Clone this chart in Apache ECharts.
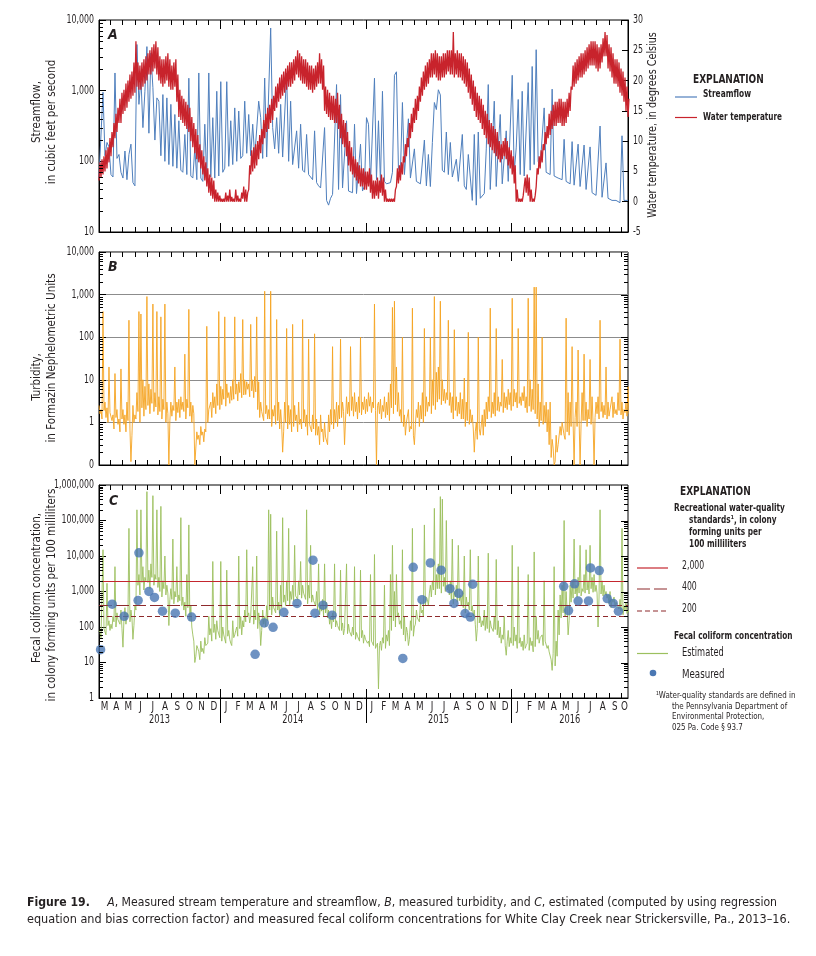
<!DOCTYPE html>
<html><head><meta charset="utf-8">
<script src="https://cdn.jsdelivr.net/npm/echarts@6/dist/echarts.min.js"></script>
<style>html,body{margin:0;padding:0;background:#fff}#c{width:816px;height:956px}</style>
</head><body><div id="c"></div>
<script>
// ---------- DATA ----------
const START_DATE = '2013-03-04';
const END_DATE = '2016-10-19';
const STEP_DAYS = 5; // one value every 5 days from START_DATE

// Streamflow, cubic feet per second
const streamflow = [
  60,62,950,120,185,160,65,60,1780,110,
  125,70,58,140,55,125,175,50,45,4500,
  640,1500,300,980,4200,250,3400,1100,200,790,
  710,120,880,100,790,90,640,85,460,80,
  375,75,70,240,65,1500,62,58,155,55,
  1780,58,52,335,55,1780,60,415,58,980,
  62,1340,70,80,1340,85,375,90,570,100,
  515,110,120,710,130,460,120,335,115,110,
  710,415,110,1510,115,120,7700,300,150,415,
  130,640,115,110,1780,100,710,90,85,270,
  80,335,75,70,240,65,60,55,270,50,
  45,42,40,300,28,24,30,34,33,1220,
  40,880,42,40,375,38,37,36,335,35,
  36,175,38,45,415,335,50,48,1500,55,
  375,50,980,52,48,45,50,70,1650,1850,
  80,70,680,65,62,400,58,55,150,52,
  50,48,46,200,45,125,44,185,680,540,
  1030,870,75,70,260,65,185,60,57,107,
  52,50,240,45,40,125,130,28,240,24,
  260,30,32,35,150,1220,40,42,710,44,
  160,460,48,50,270,52,55,1650,70,155,
  750,65,980,62,60,1300,75,2200,90,3800,
  100,85,80,570,70,68,65,1050,62,60,
  58,56,55,205,52,50,48,190,46,45,
  175,44,42,170,40,38,160,36,34,33,
  32,316,31,30,95,30,29,28,27,28,
  27,26,230,28,27,28
];

// Water temperature band (lower / upper edge of the daily band), degrees Celsius
const tempLow = [
  3.5,4,4.5,5,5.5,6.5, 7.5,9,10.5,11.5,13,13, 14.5,15,15.5,16.5,17,17.5,
  18,19,18.5,18.5,19,19.5, 20,21,21,21.5,22,21, 20,19.5,19,19.5,20,19,
  18.5,18.5,19,16.5,14,13.5, 13,12.5,12,11.5,10,9, 8,7,6.5,5.5,4.5,3.5,
  2.5,1.5,1,0.5,0,0,0, 0,0,0,0,0,0, 0,0,0,0,0,0.5,
  0,0,2,4.5,5,5.5, 6,7,8,9.5,10.5,11.5, 12,13,13.5,15,15.5,16.5,
  17,17.5,18,18.5,19,19, 19.5,20,21,20.5,20,19.5, 19.5,19,18.5,18.5,18,18.5,
  19,19.5,19.5,18.5,15,14.5, 14,13.5,13.5,13,13,12, 10.5,9.5,9,7.5,6,5,
  4.5,4,3.5,3,2.5,2.5,2, 2,2.5,1.5,0.5,0.5,1, 0.5,1.5,1,0,0,0,
  0,0,0,2.5,3,3.5, 4.5,6.5,7.5,9,10.5,11.5, 13,13.5,15,16.5,17.5,18.5,
  19,19.5,20.5,20.5,21,20.5, 20,20,20.5,20.5,21,21.5, 21,21,20.5,21,20.5,20.5,
  20,19.5,19,18,17,16, 15,14,13.5,13,12,11, 10.5,9.5,9,8.5,8,7.5,
  7,6.5,7,7.5,7,6,5.5, 4.5,3,0,0,0,0, 1,1.5,1,0,0,0,
  2.5,4.5,5.5,6.5,8.5,9.5, 10.5,11,12,12.5,12.5,13, 13,12.5,12.5,13,14,15,
  18.5,19,19.5,20,20.5,20.5, 21,21.5,22,22.5,22.5,22.5, 22,21.5,22,23,24,24,
  22,21.5,20.5,19.5,19.5,19, 18,17.5,16.5,15,14
];
const tempHigh = [
  6.5,7,7.5,8.5,9,10.5, 11.5,13,14.5,15.5,17,18, 18.5,19.5,20,21,21.5,23,
  26.5,23,22.5,23,23.5,24, 24.5,25,25.5,26,26.5,25.5, 24,23.5,23.5,24,24.5,23.5,
  22.5,23,23.5,21,18.5,17.5, 17,16.5,16,15.5,14,13, 12,11,9.5,8.5,7.5,6.5,
  5.5,4.5,4,3.5,2,1.5,1, 0.5,0.5,1.5,1,2,0.8, 0.5,2,1,0.5,1.5,2.5,
  2,1.5,6,8.5,9,9.5, 10,11,12,13.5,14.5,15.5, 16,17,17.5,19,19.5,20.5,
  21,21.5,22,22.5,23,23, 23.5,24,25,24.5,24,23.5, 23.5,23,22.5,22.5,22,22.5,
  23,24.5,23.5,22.5,19,18.5, 18,17.5,17.5,17,18,16, 14.5,13.5,13,11.5,10,9,
  7.5,7,6.5,6,5.5,5.5,5, 5,5.5,4.5,3.5,3.5,4, 3.5,4.5,4,2,0.5,0.5,
  0.5,0.5,2,5.5,6,6.5, 7.5,9.5,10.5,13,14.5,15.5, 17,17.5,19,20.5,21.5,22.5,
  23,23.5,24.5,24.5,25,24.5, 24,24,24.5,24.5,25,25, 25,28,24.5,25,24.5,24.5,
  24,23.5,23,22,21,20, 19,18,17.5,17,16,15, 14.5,13.5,13,12.5,12,11.5,
  10,9.5,10,10.5,10,9,8.5, 7.5,6,2,0.5,0.5,1, 4,4.5,4,2,0.5,1,
  5.5,7.5,8.5,9.5,11.5,12.5, 14.5,15,16,16.5,16.5,17, 17,16.5,16.5,17,18,19,
  22.5,23,23.5,24,24.5,24.5, 25,25.5,26,26.5,26.5,26.5, 26,25.5,26,27,28,27.5,
  26,25.5,24.5,23.5,23.5,23, 22,21.5,20.5,19,17
];

// Turbidity, Formazin Nephelometric Units: upper readings (incl. storm peaks) and lower edge of the noise band
const turbidity = [
  2.5,2,400,3,2.2,20,1.7,1.5,14,2,
  1.2,18,2,1.5,3,250,0.12,2.5,1.5,5,
  400,350,10,7,900,8,6,600,5,400,
  4,300,3.5,600,3,0.1,3,2.5,20,3,
  3.5,4,3,40,3.5,450,3,2.5,0.1,0.6,
  0.5,0.8,0.6,0.7,180,2,3,5,4,8,
  400,7,6,300,8,5,7,10,300,8,
  9,14,260,10,9,8,200,10,12,300,
  9,3,2,1200,2.5,2,1200,2,2.5,260,
  3,2,0.2,3,160,2.5,2,200,2.5,1.5,
  3,1.2,260,2,1.5,90,1,1.5,120,1.2,
  0.8,1.5,0.7,1,0.5,1.5,2,60,2,3,
  2.5,90,3,0.3,4,3,60,4,5,3,
  4,100,3,4,3.5,5,4,3,600,0.1,
  3,3.5,2.5,4,3,5,8,500,700,20,
  5,2,100,1.5,1,2,0.8,480,0.3,2,
  3,2.5,5,160,4,3,100,10,900,15,
  20,700,10,6,5,250,5,4,150,4,
  3,5,3.5,11,3,130,2,1.5,0.2,1,
  100,0.5,1.5,2,3,4,480,3,5,160,
  4,3,30,5,4,6,5,820,6,5,
  160,4,5,7,4,820,10,6,1500,1500,
  8,3,100,2.5,3,2,3,0.4,0.1,0.5,
  0.3,0.8,1,0.5,280,5,3,60,0.1,3,
  50,0.1,5,40,3,2,30,4,0.1,3,
  4,250,3,2.5,20,3,2,4,3,2,
  5,90,3,2,3,7
];
const turbidityLow = [
  1.6,1.2,1.9,1.3,1.0,1.7, 1.1,0.7,1.3,0.9,0.6,1.2, 0.9,0.6,1.1,0.7,0.5,1.0,
  1.2,1.8,1.0,2.2,1.4,2.0, 2.5,1.6,2.8,1.8,2.3,1.5, 1.8,1.2,2.0,1.0,1.6,1.1,
  1.4,1.9,1.1,1.7,1.3,2.0, 1.8,1.2,2.2,1.4,1.0,1.6, 0.25,0.4,0.3,0.5,0.35,0.6,
  1.0,1.8,1.3,2.2,1.6,2.5,2.0, 2.6,3.5,2.4,3.8,2.8,3.3, 3.5,4.6,3.2,5.0,3.8,4.4,
  4.5,6.0,4.0,5.5,3.8,5.2, 2.0,1.3,1.8,1.1,1.6,1.2, 1.2,0.8,1.4,0.9,1.1,0.7,
  0.9,0.6,1.0,0.7,0.9,0.6, 0.8,1.1,0.6,0.9,0.7,1.0, 0.8,0.5,0.9,0.6,0.7,0.5,
  0.5,0.3,0.6,0.35,0.45,0.3, 0.6,0.9,0.7,1.0,0.8,1.2, 1.3,1.8,1.2,1.6,1.4,1.9,
  1.4,1.8,1.2,1.7,1.5,2.0,1.6, 1.8,2.4,1.7,2.2,1.9,2.5, 1.6,1.2,1.8,1.3,1.5,1.1,
  2.2,1.6,2.6,1.8,1.4,1.0, 0.8,0.5,0.9,0.6,0.7,0.5, 0.9,1.3,0.8,1.2,1.0,1.4,
  1.8,2.4,1.6,2.5,2.0,3.0, 3.5,2.6,3.2,2.8,3.4,2.5, 1.7,1.2,1.9,1.4,1.6,1.2,
  1.2,0.8,1.1,0.9,1.0,0.7, 0.6,0.4,0.7,0.45,0.5,0.8, 1.2,1.8,1.3,1.6,1.4,1.9,
  1.8,2.4,1.7,2.2,2.0,2.6,1.9, 2.4,3.0,2.2,2.8,2.5,3.2, 2.2,1.7,2.4,1.8,2.0,1.6,
  1.2,0.8,1.1,0.9,1.0,0.6, 0.3,0.15,0.25,0.12,0.2,0.3, 0.5,0.7,0.4,0.6,0.5,0.8,
  1.0,1.3,0.8,1.2,0.9,1.1, 1.1,0.8,1.2,0.9,1.0,1.3, 1.6,1.2,1.8,1.3,1.5,1.2,
  1.4,1.8,1.3,1.6,1.5,1.9, 1.5,1.2,1.7,1.4,1.6
];

// Estimated fecal coliform, colony forming units per 100 milliliters: upper readings and lower edge of the band
const fecalEstimated = [
  80,50,15000,90,1700,150,120,200,5000,250,
  180,300,27,350,250,60000,300,45,400,200000,
  3000,200000,5000,2500,650000,4000,6000,500000,3000,200000,
  2500,250000,2000,10000,1500,110,1200,30000,1000,5000,
  800,120000,700,500,3000,75000,400,60,10,30,
  20,40,25,50,30,200,90,7000,120,150,
  80,7000,100,60,4000,80,35,150,60,100,
  10000,200,150,300,15000,250,200,5000,300,10000,
  250,30,300,200,400,200000,150000,700,300,50000,
  500,1500,120000,800,2000,60000,1000,1500,20000,800,
  2000,7000,1500,1000,200000,1500,20000,800,500,1000,
  6000,400,600,6000,500,300,200,250,6000,150,
  100,4000,130,90,6000,120,80,100,5000,70,
  60,4000,80,60,50,40,3000,35,11000,30,
  1.8,40,50,1500,60,80,3000,20000,1000,3000,
  250,150,15000,200,100,30,150,60000,100,300,
  200,500,300,75000,700,400,1500,2000,220000,3000,
  6000,470000,400000,2500,100000,1500,2000,30000,1000,1500,
  20000,800,1000,10000,700,500,15000,400,300,40,
  10000,200,150,300,200,12000,150,100,200,8000,
  150,100,60,200,16,80,50,20000,100,60,
  5000,50,40,60,30,3000,50,40,13000,200,
  80,50,60,2000,40,30,20,6,5000,40,
  300,800,1500,100000,1000,60,1500,2000,30000,1500,
  2500,20000,1200,3000,15000,2000,20000,2500,3000,1500,
  100,200000,2000,1500,1000,800,1000,600,700,500,
  400,600,60000,400,500,300
];
const fecalLow = [
  70,50,90,60,110,80, 90,140,100,160,120,90, 160,120,200,140,180,110,
  300,1500,800,1800,1100,2000, 1800,1200,2500,1500,2200,1300, 1000,700,1200,800,900,600,
  600,450,700,500,550,400, 300,200,350,150,100,40, 15,25,12,20,18,30,
  35,60,40,70,45,80,50, 40,60,35,55,45,30, 50,80,55,90,60,100,
  140,200,130,180,120,160, 90,140,80,120,100,150, 300,220,350,250,300,200,
  350,500,400,550,420,600, 550,750,600,800,650,900, 600,450,650,500,550,400,
  300,220,280,200,250,180, 120,90,140,100,110,80, 80,60,90,65,75,55,
  60,45,55,40,50,35,45, 35,28,40,30,25,35, 30,22,35,25,40,30,
  80,150,100,200,120,90, 60,40,70,45,80,55, 120,180,140,250,200,400,
  600,900,700,1100,800,1200, 1200,900,1400,1000,1100,800, 600,450,700,500,550,400,
  350,250,400,300,280,200, 120,90,130,100,110,80, 90,70,100,75,85,60,
  50,35,45,30,40,28,35, 30,40,25,35,28,22, 25,35,22,30,20,28,
  45,35,50,30,40,25, 20,12,18,8,15,60, 180,250,200,300,150,500,
  650,850,700,900,750,1000, 900,1100,850,1200,950,1000, 900,700,850,750,800,650,
  450,350,500,380,420,320, 280,220,300,240,260
];

// Measured fecal coliform samples
const measuredDates = [
  '2013-03-08','2013-04-06','2013-05-06','2013-06-10','2013-06-12','2013-07-07','2013-07-21','2013-08-10','2013-09-11','2013-10-22',
  '2014-03-30','2014-04-22','2014-05-14','2014-06-10','2014-07-13','2014-08-22','2014-08-27','2014-09-16','2014-10-09',
  '2015-04-04','2015-04-30','2015-05-22','2015-06-12','2015-07-09','2015-07-31','2015-08-10','2015-08-22','2015-09-07','2015-09-20','2015-09-26',
  '2016-05-11','2016-05-23','2016-06-07','2016-06-16','2016-07-12','2016-07-17','2016-08-08','2016-08-28','2016-09-12','2016-09-25'
];
const measuredValues = [
  23,440,200,560,12300,1000,680,280,245,190,
  17,130,98,260,460,7600,245,410,215,
  13,4800,590,6400,4000,1200,460,890,240,190,1600,
  1400,290,1650,540,540,4600,3900,630,460,280
];

// Recreational water-quality standards
const standards = [2000, 400, 200];
const standardLabels = ['2,000', '400', '200'];

// Tick labels
const flowTicks = [10, 100, 1000, 10000];
const tempTicks = [-5, 0, 5, 10, 15, 20, 25, 30];
const turbidityTicks = [0.1, 1, 10, 100, 1000, 10000];
const fecalTicks = [1, 10, 100, 1000, 10000, 100000, 1000000];
const monthLetters = ['J','F','M','A','M','J','J','A','S','O','N','D'];
const years = [2013, 2014, 2015, 2016];

// ---------- STYLE ----------
const FONT = "'Liberation Sans Narrow','DejaVu Sans Condensed','Roboto Condensed','Liberation Sans',sans-serif";
const INK = '#231f20';
const C_FLOW = '#4f7fbd', C_TEMP = '#c8232c', C_TURB = '#f5a421', C_EST = '#9cc05e', C_MEAS = '#4a77b3';
const STD_STYLES = [
  {color:'#c4262e', type:'solid', width:1.2},
  {color:'#8e2a2c', type:[13,4], width:1.2},
  {color:'#8e2a2c', type:[5,3], width:1.2}
];

const DAY = 86400000;
function utc(s){const p=s.split('-').map(Number);return Date.UTC(p[0],p[1]-1,p[2]);}
const t0 = utc(START_DATE), tEnd = utc(END_DATE);
const tAt = i => t0 + i*STEP_DAYS*DAY;
const HALF = STEP_DAYS*DAY/2;
const fmt = v => v < 0.5 ? '0' : Math.round(v).toLocaleString('en-US');
// band series: each upper reading followed half a step later by the lower-edge reading
const band = (hi, lo) => hi.flatMap((v,i)=>[[tAt(i), v],[tAt(i)+HALF, lo[i]]]);

function xAx(g){return {type:'time', gridIndex:g, min:t0, max:tEnd,
  axisLabel:{show:false}, axisTick:{show:false}, splitLine:{show:false},
  axisLine:{show:true, onZero:false, lineStyle:{color:'#000', width:1}}};}
function logAx(g, mn, mx, split){return {type:'log', logBase:10, gridIndex:g, min:mn, max:mx, position:'left',
  axisLine:{show:true, lineStyle:{color:'#000'}}, axisTick:{show:true, inside:true, length:7, lineStyle:{color:'#000'}},
  axisLabel:{show:false},
  splitLine:{show:!!split, lineStyle:{color:'#8c8c8c', width:1}}};}

const option = {
  animation:false,
  backgroundColor:'#fff',
  grid:[
    {left:99, top:20, width:529, height:212, show:true, borderColor:'#000', borderWidth:1},
    {left:99, top:252, width:529, height:213, show:true, borderColor:'#000', borderWidth:1},
    {left:99, top:485, width:529, height:213, show:true, borderColor:'#000', borderWidth:1}
  ],
  xAxis:[xAx(0), xAx(1), xAx(2)],
  yAxis:[
    logAx(0, 10, 10000, false),
    {type:'value', gridIndex:0, min:-5, max:30, interval:5, position:'right',
     axisLine:{show:true, lineStyle:{color:'#000'}}, axisTick:{show:true, inside:true, length:6, lineStyle:{color:'#000'}},
     axisLabel:{show:false}, splitLine:{show:false}},
    logAx(1, 0.1, 10000, true),
    logAx(2, 1, 1000000, false)
  ],
  series:[
    {type:'line', name:'Streamflow', xAxisIndex:0, yAxisIndex:0, symbol:'none', z:2,
     lineStyle:{color:C_FLOW, width:1}, data: streamflow.map((v,i)=>[tAt(i), v])},
    {type:'line', name:'Water temperature', xAxisIndex:0, yAxisIndex:1, symbol:'none', z:3,
     lineStyle:{color:C_TEMP, width:1.3}, data: band(tempLow, tempHigh)},
    {type:'line', name:'Turbidity', xAxisIndex:1, yAxisIndex:2, symbol:'none', z:2,
     lineStyle:{color:C_TURB, width:0.9}, data: band(turbidity, turbidityLow)},
    {type:'line', name:'Estimated', xAxisIndex:2, yAxisIndex:3, symbol:'none', z:2,
     lineStyle:{color:C_EST, width:0.9}, data: band(fecalEstimated, fecalLow),
     markLine:{silent:true, symbol:'none', label:{show:false}, animation:false,
       data: standards.map((v,k)=>({yAxis:v, lineStyle:STD_STYLES[k]}))}},
    {type:'scatter', name:'Measured', xAxisIndex:2, yAxisIndex:3, symbol:'circle', symbolSize:9.5, z:5,
     itemStyle:{color:C_MEAS}, data: measuredDates.map((d,k)=>[utc(d), measuredValues[k]])}
  ]
};

const chart = echarts.init(document.getElementById('c'));
chart.setOption(option);

// ---------- ticks, labels and texts ----------
const G = [];
const px = (a,v) => chart.convertToPixel({xAxisIndex:a}, v);
const py = (a,v) => chart.convertToPixel({yAxisIndex:a}, v);
function ln(x1,y1,x2,y2,stroke,w,dash){G.push({type:'line', silent:true, z:50,
  shape:{x1,y1,x2,y2}, style:{stroke:stroke||'#000', lineWidth:w||1, lineDash:dash||null}});}
function tx(x,y,text,o){o=o||{};G.push({type:'text', silent:true, z:60, x, y, rotation:o.rot||0, scaleX:o.sx||1,
  style:Object.assign({text, fontFamily:FONT, fontSize:o.size||11, fontWeight:o.bold?'bold':'normal',
  fontStyle:o.italic?'italic':'normal', fill:INK, align:o.align||'left', verticalAlign:'middle'}, o.style||{})});}

const panels = [{xa:0, ya:0, min:10, max:1e4, right:false, ticks:flowTicks},
                {xa:1, ya:2, min:0.1, max:1e4, right:true, ticks:turbidityTicks},
                {xa:2, ya:3, min:1, max:1e6, right:true, ticks:fecalTicks}];
const bounds = [];
years.forEach(y=>{for(let m=0;m<12;m++){const t=Date.UTC(y,m,1); if(t>t0 && t<tEnd) bounds.push({t, yr:m===0});}});
const xL = px(0,t0), xR = px(0,tEnd);
panels.forEach((p,k)=>{
  const yT = py(p.ya,p.max), yB = py(p.ya,p.min);
  bounds.forEach(b=>{
    const x = Math.round(px(p.xa,b.t))+0.5, L = b.yr?9:5;
    ln(x,yT,x,yT+L);
    if(k===2 && b.yr) ln(x,yB-L,x,yB+25); else ln(x,yB-L,x,yB);
  });
  const d0 = Math.round(Math.log10(p.min)), d1 = Math.round(Math.log10(p.max));
  for(let d=d0; d<d1; d++){
    for(let j=2;j<=9;j++){
      const y = Math.round(py(p.ya, j*Math.pow(10,d)))+0.5;
      ln(xL,y,xL+4,y); if(p.right) ln(xR-4,y,xR,y);
    }
    if(p.right && d>d0){const y=Math.round(py(p.ya,Math.pow(10,d)))+0.5; ln(xR-7,y,xR,y);}
  }
  p.ticks.forEach(v=>tx(xL-5, py(p.ya,v), fmt(v), {align:'right', size:11.5, sx:0.76}));
});
tempTicks.forEach(v=>tx(xR+5, py(1,v), String(v), {size:11.5, sx:0.76}));

// month / year labels under panel C
const yB3 = py(3,1);
years.forEach(y=>{
  for(let m=0;m<12;m++){
    const s=Math.max(Date.UTC(y,m,1),t0), e=Math.min(Date.UTC(y,m+1,1),tEnd);
    if(e<=s) continue;
    tx(px(2,(s+e)/2), yB3+9, monthLetters[m], {align:'center', size:11.5, sx:0.85});
  }
  const s=Math.max(Date.UTC(y,0,1),t0), e=Math.min(Date.UTC(y+1,0,1),tEnd);
  tx(px(2,(s+e)/2), yB3+22, String(y), {align:'center', size:11.5, sx:0.8});
});

// panel letters
tx(108, 35, 'A', {bold:true, italic:true, size:14});
tx(108, 267, 'B', {bold:true, italic:true, size:14});
tx(109, 501, 'C', {bold:true, italic:true, size:14});

// axis titles
const R = Math.PI/2;
tx(37, 112, 'Streamflow,', {rot:R, align:'center', size:11.5});
tx(52, 122, 'in cubic feet per second', {rot:R, align:'center', size:11.5});
tx(653, 125, 'Water temperature, in degrees Celsius', {rot:R, align:'center', size:11.5, sx:0.93});
tx(37, 377, 'Turbidity,', {rot:R, align:'center', size:11.5});
tx(52, 358, 'in Formazin Nephelometric Units', {rot:R, align:'center', size:11.5});
tx(37, 588, 'Fecal coliform concentration,', {rot:R, align:'center', size:11.5});
tx(52, 595, 'in colony forming units per 100 milliliters', {rot:R, align:'center', size:11.5});

// explanation A
tx(693, 80, 'EXPLANATION', {bold:true, size:12.5, sx:0.8});
ln(675, 97, 697, 97, C_FLOW, 1.2); tx(703, 94.5, 'Streamflow', {bold:true, size:10.5, sx:0.79});
ln(675, 117.5, 697, 117.5, C_TEMP, 1.2); tx(703, 117.5, 'Water temperature', {bold:true, size:10.5, sx:0.77});

// explanation C
tx(680, 492, 'EXPLANATION', {bold:true, size:12.5, sx:0.8});
tx(674, 508, 'Recreational water-quality', {bold:true, size:10.5, sx:0.78});
tx(689, 520, 'standards\u00b9, in colony', {bold:true, size:10.5, sx:0.78});
tx(689, 532.5, 'forming units per', {bold:true, size:10.5, sx:0.78});
tx(689, 544.5, '100 milliliters', {bold:true, size:10.5, sx:0.78});
const legY = [568, 589, 611];
standards.forEach((v,k)=>{
  const s = STD_STYLES[k];
  ln(637, legY[k], 668, legY[k], s.color, 1.2, s.type==='solid'?null:s.type);
  tx(682, legY[k]-2, standardLabels[k], {size:11.5, sx:0.75});
});
tx(674, 636.5, 'Fecal coliform concentration', {bold:true, size:10.5, sx:0.78});
ln(637, 653.5, 668, 653.5, C_EST, 1.2); tx(682, 653.5, 'Estimated', {size:11.5, sx:0.8});
G.push({type:'circle', silent:true, z:60, shape:{cx:653, cy:673, r:3.3}, style:{fill:C_MEAS}});
tx(682, 675, 'Measured', {size:11.5, sx:0.84});
tx(656, 696, '\u00b9Water-quality standards are defined in', {size:8.8, sx:0.9});
tx(672, 706.5, 'the Pennsylvania Department of', {size:8.8, sx:0.9});
tx(672, 717, 'Environmental Protection,', {size:8.8, sx:0.9});
tx(672, 727.5, '025 Pa. Code \u00a7 93.7', {size:8.8, sx:0.9});

// caption
const RICH = {b:{fontFamily:FONT, fontSize:13, fontWeight:'bold', fill:INK},
              i:{fontFamily:FONT, fontSize:13, fontStyle:'italic', fill:INK}};
tx(27, 903, '{b|Figure 19.}     {i|A}, Measured stream temperature and streamflow, {i|B}, measured turbidity, and {i|C}, estimated (computed by using regression',
   {size:13, sx:0.935, style:{rich:RICH}});
tx(27, 920, 'equation and bias correction factor) and measured fecal coliform concentrations for White Clay Creek near Strickersville, Pa., 2013\u201316.',
   {size:13, sx:0.965});

chart.setOption({graphic: G});
</script>
</body></html>
